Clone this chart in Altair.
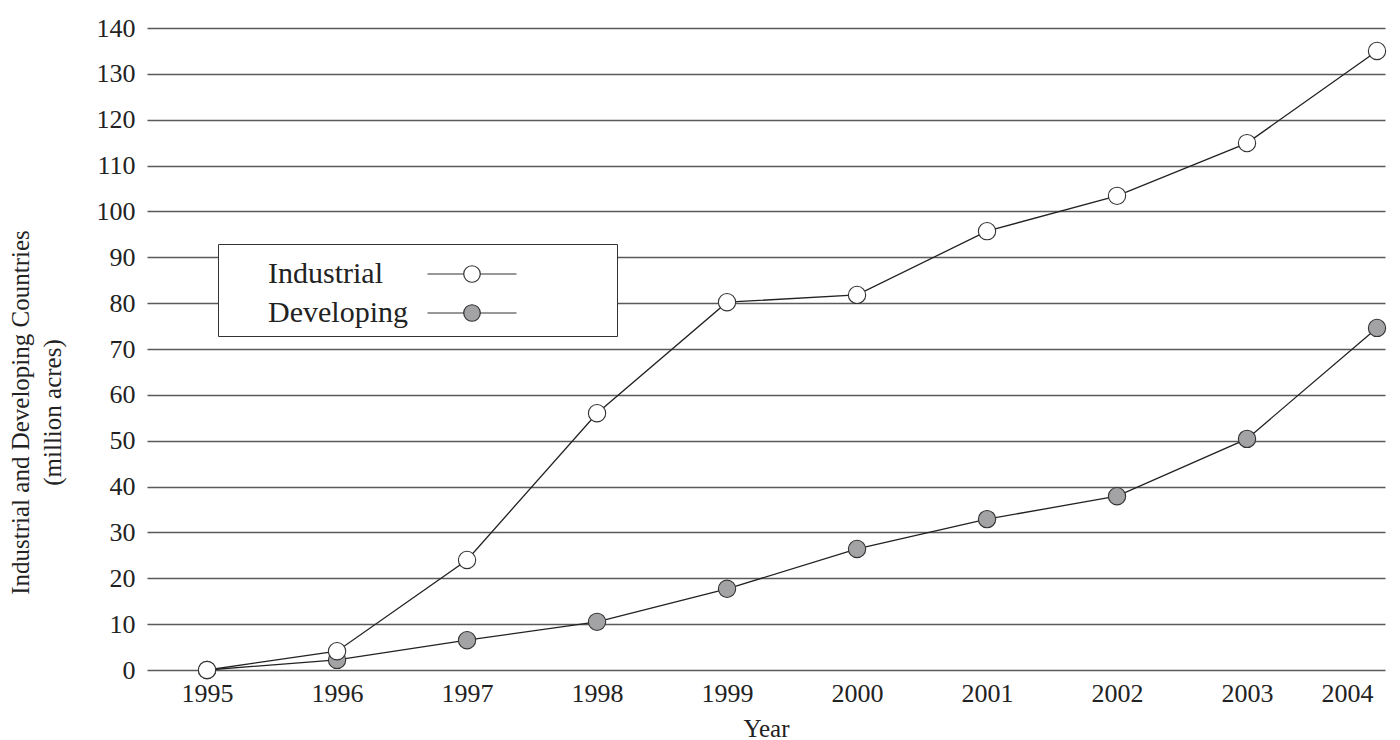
import altair as alt
import pandas as pd

years = [1995, 1996, 1997, 1998, 1999, 2000, 2001, 2002, 2003, 2004]
industrial = [0, 4.1, 24, 56, 80.2, 81.8, 95.7, 103.4, 114.9, 135]
developing = [0, 2.2, 6.5, 10.5, 17.7, 26.4, 32.9, 37.9, 50.4, 74.6]
series_names = ["Industrial", "Developing"]
y_ticks = [0, 10, 20, 30, 40, 50, 60, 70, 80, 90, 100, 110, 120, 130, 140]

FONT = "Liberation Serif"

# developing first so the industrial markers are drawn on top
df = pd.DataFrame({
    "Year": years + years,
    "Value": developing + industrial,
    "Series": ["Developing"] * len(years) + ["Industrial"] * len(years),
})

# legend symbol: line - circle - line drawn to the right of the label,
# in units of 14px (symbolSize 784); bare moves only widen the legend box
legend_symbol = (
    "M-1.07,0M0,-1.43"
    "M13.32,0H15.91M17.09,0H19.68"
    "M17.09,0A0.59,0.59,0,1,1,15.91,0A0.59,0.59,0,1,1,17.09,0"
    "M26.08,0"
)

x_enc = alt.X(
    "Year:Q",
    scale=alt.Scale(domain=[1994.538, 2004.0615], nice=False, zero=False),
    axis=alt.Axis(
        values=years, format="d", title="Year", grid=False, domain=False,
        ticks=False, tickSize=0, labelFlush=10, labelFlushOffset=-4,
        labelFontSize=26, labelPadding=10, labelColor="#222",
        titleFontSize=25, titleBaseline="alphabetic", titleY=66,
        titleFontWeight="normal", titleColor="#222",
    ),
)
y_enc = alt.Y(
    "Value:Q",
    scale=alt.Scale(domain=[0, 140], nice=False),
    axis=alt.Axis(
        values=y_ticks, grid=True, gridColor="#5a5a5a", gridWidth=1.3,
        domain=False, ticks=False, tickSize=0, labelPadding=12,
        labelFontSize=26, labelColor="#222",
        title=["Industrial and Developing Countries", "(million acres)"],
        titleFontSize=25, titleFontWeight="normal", titleColor="#222",
        titleAngle=-90, titleBaseline="top", titleAlign="center",
        titleX=-139, titleY=384, titleLineHeight=32,
    ),
)

lines = alt.Chart(df).mark_line(color="#222", strokeWidth=1.3).encode(
    x=x_enc, y=y_enc, detail="Series:N"
)

points = alt.Chart(df).mark_point(
    filled=True, shape="circle", size=300, stroke="#333", strokeWidth=1.1, opacity=1
).encode(
    x=x_enc,
    y=y_enc,
    fill=alt.Fill(
        "Series:N",
        scale=alt.Scale(domain=series_names, range=["#ffffff", "#a3a3a5"]),
        legend=alt.Legend(
            title="\u00a0", titleFontSize=4, titlePadding=3,
            orient="none", legendX=71, legendY=216,
            direction="vertical", symbolType=legend_symbol, symbolSize=784,
            symbolStrokeColor="#333", symbolStrokeWidth=1.2,
            symbolOffset=0, labelOffset=12, labelFontSize=30,
            labelFont=FONT, labelColor="#222", labelLimit=0,
            padding=8, rowPadding=1, strokeColor="#333", fillColor="white",
        ),
    ),
    order=alt.Order("ord:Q"),
).transform_calculate(ord="datum.Series == 'Industrial' ? 1 : 0")

chart = (
    alt.layer(lines, points)
    .properties(
        width=1238, height=642,
        autosize=alt.AutoSizeParams(type="none"),
        padding={"left": 139, "top": 20, "right": 7, "bottom": 72},
        background="white",
    )
    .configure(font=FONT)
    .configure_view(stroke=None)
    .configure_axis(labelFont=FONT, titleFont=FONT)
)

chart.save("out.html", embed_options={"renderer": "svg", "actions": False})
